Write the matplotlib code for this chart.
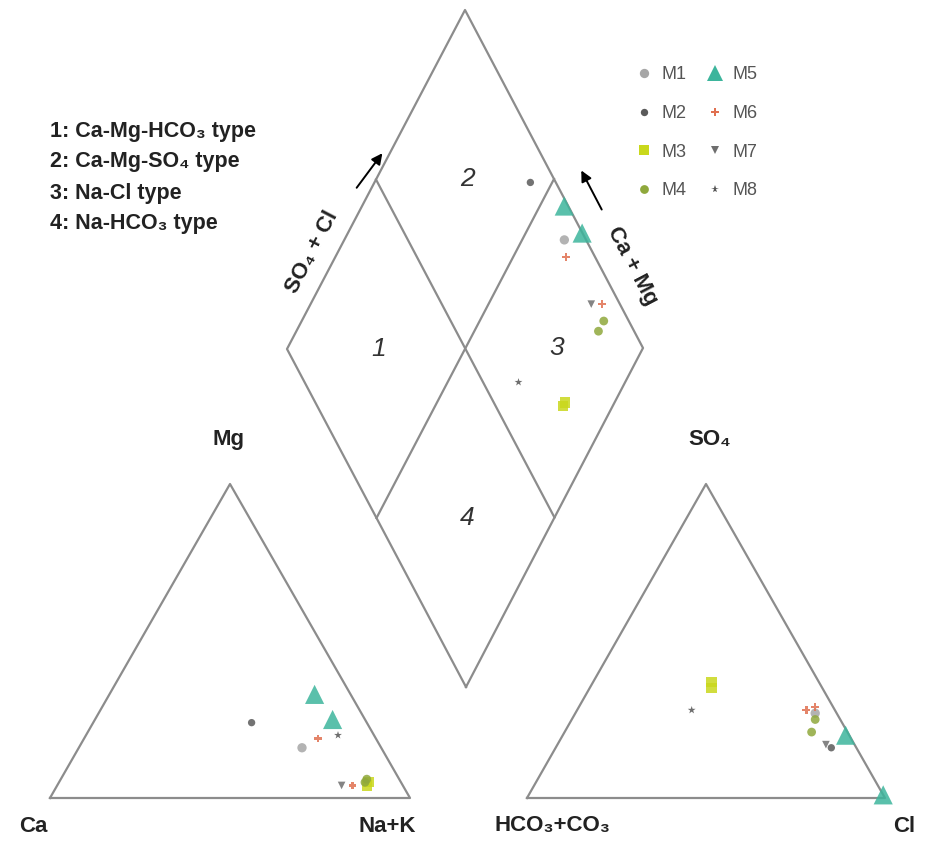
import numpy as np
import matplotlib
matplotlib.use("Agg")
import matplotlib.pyplot as plt
from matplotlib.lines import Line2D

plt.rcParams['font.family'] = ['Liberation Sans', 'DejaVu Sans']

# sample groups and their ionic percentages (meq %)
groups = ['M1', 'M2', 'M3', 'M3', 'M4', 'M4', 'M5', 'M5', 'M6', 'M6', 'M7', 'M8']
ca  = [22, 32,  9, 10, 10,  9, 10,  9, 16, 14, 17, 10]
mg  = [16, 24,  5,  4,  5,  6, 33, 25, 19,  4,  4, 20]
nak = [62, 44, 86, 86, 85, 85, 57, 66, 65, 82, 79, 70]
hco3 = [ 6,  7, 30, 31,  7, 10,  1,  0,  8,  5,  8, 40]
so4  = [27, 16, 37, 35, 25, 21, 20,  1, 28, 29, 17, 28]
cl   = [67, 77, 33, 34, 68, 69, 79, 99, 64, 66, 75, 32]

legend_names = ['M1', 'M2', 'M3', 'M4', 'M5', 'M6', 'M7', 'M8']
type_labels = ['1: Ca-Mg-HCO\u2083 type', '2: Ca-Mg-SO\u2084 type',
               '3: Na-Cl type', '4: Na-HCO\u2083 type']

styles = {
    'M1': dict(marker='o', color='#a6a6a6', s=45),
    'M2': dict(marker='o', color='#5a5a5a', s=28),
    'M3': dict(marker='s', color='#c9d81c', s=55),
    'M4': dict(marker='o', color='#8fa83c', s=40),
    'M5': dict(marker='^', color='#3db59c', s=190),
    'M6': dict(marker='P', color='#e07050', s=30),
    'M7': dict(marker='v', color='#6e6e6e', s=30),
    'M8': dict(marker='*', color='#555555', s=35),
}

# frame geometry (pixel space)
cat_l, cat_r, cat_t = np.array([50, 798]), np.array([410, 798]), np.array([230, 484])
an_l, an_r, an_t = np.array([527, 798]), np.array([885, 798]), np.array([706, 484])
d_bot, d_left, d_right, d_top = np.array([466, 687]), np.array([287, 349]), np.array([643, 348]), np.array([465, 10])


def tern(p_left, p_right, p_top, a, b, c):
    a, b, c = np.asarray(a) / 100, np.asarray(b) / 100, np.asarray(c) / 100
    x = p_left[0] * a + p_right[0] * b + p_top[0] * c
    y = p_left[1] * a + p_right[1] * b + p_top[1] * c
    return x, y


def diamond(cat_sum, an_sum):
    c, s = np.asarray(cat_sum) / 100, np.asarray(an_sum) / 100
    x = d_bot[0] + s * (d_right[0] - d_bot[0]) + c * (d_left[0] - d_bot[0])
    y = d_bot[1] + s * (d_right[1] - d_bot[1]) + c * (d_left[1] - d_bot[1])
    return x, y


fig = plt.figure(figsize=(9.26, 8.43), dpi=100)
ax = fig.add_axes([0, 0, 1, 1])
ax.set_xlim(0, 926)
ax.set_ylim(843, 0)
ax.axis('off')

lc, lw = '#8c8c8c', 1.6
for pts in ([cat_l, cat_r, cat_t, cat_l], [an_l, an_r, an_t, an_l],
            [d_bot, d_right, d_top, d_left, d_bot]):
    pts = np.array(pts)
    ax.plot(pts[:, 0], pts[:, 1], color=lc, lw=lw)
# inner dividing lines of the diamond
for p0, p1 in (((d_left + d_top) / 2, (d_right + d_bot) / 2),
               ((d_right + d_top) / 2, (d_left + d_bot) / 2)):
    ax.plot([p0[0], p1[0]], [p0[1], p1[1]], color=lc, lw=lw)

ca_, mg_, nak_ = map(np.array, (ca, mg, nak))
hco3_, so4_, cl_ = map(np.array, (hco3, so4, cl))
cx, cy = tern(cat_l, cat_r, cat_t, ca_, nak_, mg_)
ax_, ay_ = tern(an_l, an_r, an_t, hco3_, cl_, so4_)
dx, dy = diamond(ca_ + mg_, so4_ + cl_)

grp = np.array(groups)
handles = []
for name in legend_names:
    m = grp == name
    st = styles[name]
    for xs, ys in ((cx, cy), (ax_, ay_), (dx, dy)):
        ax.scatter(xs[m], ys[m], marker=st['marker'], c=st['color'], s=st['s'],
                   alpha=0.85, edgecolors='none', zorder=3)
    ms = np.sqrt(st['s']) if name != 'M5' else 11
    handles.append(Line2D([], [], ls='none', marker=st['marker'], color=st['color'],
                          markersize=ms, markeredgewidth=0, label=name))

leg = ax.legend(handles=handles, ncol=2, loc='upper left', bbox_to_anchor=(0.676, 0.93),
                frameon=False, fontsize=13, labelcolor='#555555', labelspacing=1.2,
                columnspacing=1.0, handletextpad=0.35, handlelength=1.2, borderaxespad=0)

for i, t in enumerate(type_labels):
    ax.text(50, 131 + i * 31, t, fontsize=15.5, fontweight='bold', color='#222222',
            va='center', ha='left')

zone_pos = [((d_left + (d_top + d_bot) / 2) / 2), ((d_top + (d_left + d_right) / 2) / 2),
            ((d_right + (d_top + d_bot) / 2) / 2), ((d_bot + (d_left + d_right) / 2) / 2)]
for i, p in enumerate(zone_pos):
    ax.text(p[0] + 2, p[1], str(i + 1), fontsize=19, style='italic', color='#333333',
            ha='center', va='center')

# axis titles
bold = dict(fontsize=16, fontweight='bold', color='#222222', ha='center', va='center')
ax.text(229, 440, 'Mg', **bold)
ax.text(33, 826, 'Ca', **bold)
ax.text(387, 826, 'Na+K', **bold)
ax.text(710, 440, 'SO\u2084', **bold)
ax.text(552, 826, 'HCO\u2083+CO\u2083', **bold)
ax.text(904, 826, 'Cl', **bold)

# edge labels with arrows
ang = np.degrees(np.arctan2(d_left[1] - d_top[1], d_top[0] - d_left[0]))
ax.text(312, 252, 'SO\u2084 + Cl', rotation=ang, rotation_mode='anchor', **bold)
ax.annotate('', xy=(384, 151), xytext=(355, 190),
            arrowprops=dict(arrowstyle='-|>', color='black', lw=1.4, mutation_scale=16))
ax.text(632, 266, 'Ca + Mg', rotation=-ang, rotation_mode='anchor', **bold)
ax.annotate('', xy=(580, 168), xytext=(603, 212),
            arrowprops=dict(arrowstyle='-|>', color='black', lw=1.4, mutation_scale=16))

fig.savefig('out.png', dpi=100)
